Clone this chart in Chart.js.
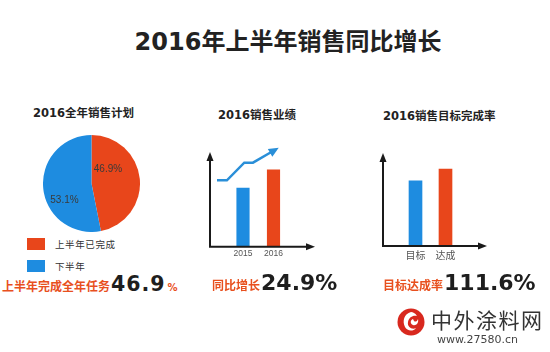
<!DOCTYPE html>
<html>
<head>
<meta charset="utf-8">
<script src="https://cdn.jsdelivr.net/npm/chart.js@4.4.1/dist/chart.umd.min.js"></script>
<style>
  html, body { margin: 0; padding: 0; }
  body { width: 550px; height: 352px; position: relative; overflow: hidden; background: #fff;
         font-family: "DejaVu Sans", "Noto Sans CJK SC", sans-serif; color: #222; }
  .abs { position: absolute; white-space: nowrap; }
  .title { left: 0; width: 576px; text-align: center; top: 28px; font-size: 24px; line-height: 29px; font-weight: bold; color: #222; }
  .ptitle { font-size: 11.5px; line-height: 14px; font-weight: bold; color: #222; }
  .box { position: absolute; }
  .legend-item { position: absolute; left: 27px; width: 120px; height: 12px; white-space: nowrap;
                 font-family: "Noto Sans CJK SC", sans-serif; font-size: 9.5px; letter-spacing: 0.6px; color: #333; }
  .legend-item i { position: absolute; left: 0; top: 0; width: 18px; height: 12px; }
  .legend-item span { position: absolute; left: 28px; top: -1px; line-height: 14px; }
  .cap { display: flex; align-items: baseline; height: 30px; }
  .cap .cn { font-family: "Noto Sans CJK SC", sans-serif; font-weight: bold; font-size: 12px; color: #e8501e; }
  .cap .num { font-family: "DejaVu Sans", sans-serif; font-weight: bold; color: #1e1e1e; }
  .cap .pct { font-family: "DejaVu Sans", sans-serif; font-weight: bold; font-size: 10px; color: #e8501e; margin-left: 2px; }
</style>
</head>
<body>
<div class="abs title">2016年上半年销售同比增长</div>

<div class="abs ptitle" style="left:33px; top:106px;">2016全年销售计划</div>
<div class="abs ptitle" style="left:218px; top:108px;">2016销售业绩</div>
<div class="abs ptitle" style="left:383px; top:109px;">2016销售目标完成率</div>

<div class="box" style="left:43px; top:135px; width:97px; height:97px;"><canvas id="pie"></canvas></div>
<div id="legend"></div>
<div class="box" style="left:195px; top:140px; width:130px; height:121px;"><canvas id="sales"></canvas></div>
<div class="box" style="left:195px; top:140px; width:130px; height:121px;"><canvas id="trend"></canvas></div>
<div class="box" style="left:370px; top:140px; width:130px; height:124px;"><canvas id="target"></canvas></div>

<div class="abs cap" style="left:2px; top:272px;">
  <span class="cn">上半年完成全年任务</span><span class="num" style="font-size:20.5px; letter-spacing:1px; margin-left:1px;">46.9</span><span class="pct">%</span>
</div>
<div class="abs cap" style="left:212px; top:270px;">
  <span class="cn">同比增长</span><span class="num" style="font-size:22px; margin-left:1px;">24.9%</span>
</div>
<div class="abs cap" style="left:383px; top:270px;">
  <span class="cn">目标达成率</span><span class="num" style="font-size:22px; margin-left:1px;">111.6%</span>
</div>

<svg class="abs" style="left:397px; top:308px;" width="28" height="28" viewBox="0 0 28 28">
  <circle cx="14" cy="14" r="13.5" fill="#d8281e"/>
  <path d="M14 4 C7 6 5 13 8 19 C10 23 16 24 19 20 C15 22 10 19 11 14 C12 9 16 7 20 8 C18 5 16 4 14 4 Z" fill="#fff"/>
  <path d="M16 11 C13 12 13 16 16 17 C19 18 22 15 21 11 C20 14 18 14 17 13 Z" fill="#fff"/>
</svg>
<div class="abs" style="left:431px; top:305px; font-family:'Noto Sans CJK SC', sans-serif; font-size:21px; line-height:28px; letter-spacing:1.5px; color:#333;">中外涂料网</div>
<div class="abs" style="left:437px; top:333px; font-size:11px; line-height:14px; color:#444;">www.27580.cn</div>

<script>
/* ─── DATA ─── */
const pieLabels = ['上半年已完成', '下半年'];
const pieValues = [46.9, 53.1];

const salesYears = ['2015', '2016'];
const salesValues = [100, 131];
// rising trend line above the sales bars
const trendX = [0, 16, 44, 58, 87];
const trendY = [66, 66, 83, 83, 93];

const targetLabels = ['目标', '达成'];
const targetValues = [100, 118];

/* ─── STYLE ─── */
const RED = '#e8461b';
const BLUE = '#1e8ce0';
const TREND = '#2a8fd8';
const AXIS = '#1a1a1a';

Chart.defaults.font.family = '"DejaVu Sans", "Noto Sans CJK SC", sans-serif';
Chart.defaults.animation = false;

// legend for the pie, as plain html
document.getElementById('legend').innerHTML = pieLabels.map((l, i) =>
  `<div class="legend-item" style="top:${238 + i * 22}px"><i style="background:${[RED, BLUE][i]}"></i><span>${l}</span></div>`
).join('');

/* ─── PLUGINS ─── */
const pieValueLabels = {
  id: 'pieValueLabels',
  afterDatasetsDraw(chart, args, opts) {
    const ctx = chart.ctx;
    const meta = chart.getDatasetMeta(0);
    ctx.save();
    ctx.font = '10px "Liberation Sans", sans-serif';
    ctx.fillStyle = '#3a3a3a';
    ctx.textAlign = 'center';
    ctx.textBaseline = 'middle';
    meta.data.forEach((arc, i) => {
      const p = opts.pos[i];
      const a = arc.startAngle + p.t * (arc.endAngle - arc.startAngle);
      const r = arc.outerRadius * p.r;
      const v = chart.data.datasets[0].data[i];
      ctx.fillText(v.toFixed(1) + '%', arc.x + Math.cos(a) * r, arc.y + Math.sin(a) * r);
    });
    ctx.restore();
  }
};

const axisArrows = {
  id: 'axisArrows',
  afterDatasetsDraw(chart, args, opts) {
    const ctx = chart.ctx;
    const b = chart.chartArea.bottom;
    const L = opts.left, T = opts.top, R = opts.right;
    ctx.save();
    ctx.strokeStyle = ctx.fillStyle = AXIS;
    ctx.lineWidth = 2;
    ctx.beginPath();
    ctx.moveTo(L, T + 6); ctx.lineTo(L, b); ctx.lineTo(R - 6, b);
    ctx.stroke();
    ctx.beginPath();
    ctx.moveTo(L, T); ctx.lineTo(L - 3.5, T + 9); ctx.lineTo(L + 3.5, T + 9); ctx.closePath(); ctx.fill();
    ctx.beginPath();
    ctx.moveTo(R, b); ctx.lineTo(R - 9, b - 3.5); ctx.lineTo(R - 9, b + 3.5); ctx.closePath(); ctx.fill();
    ctx.restore();
  }
};

const trendArrow = {
  id: 'trendArrow',
  afterDatasetsDraw(chart) {
    const pts = chart.getDatasetMeta(0).data;
    if (pts.length < 2) return;
    const a = pts[pts.length - 2], b = pts[pts.length - 1];
    const ang = Math.atan2(b.y - a.y, b.x - a.x);
    const ctx = chart.ctx;
    ctx.save();
    ctx.translate(b.x, b.y);
    ctx.rotate(ang);
    ctx.fillStyle = TREND;
    ctx.beginPath();
    ctx.moveTo(9, 0); ctx.lineTo(-1, -4.5); ctx.lineTo(-1, 4.5); ctx.closePath(); ctx.fill();
    ctx.restore();
  }
};

const noChrome = { legend: { display: false }, tooltip: { enabled: false } };

/* ─── PIE ─── */
new Chart(document.getElementById('pie'), {
  type: 'pie',
  data: { labels: pieLabels, datasets: [{ data: pieValues, backgroundColor: [RED, BLUE], borderWidth: 0 }] },
  options: {
    responsive: true, maintainAspectRatio: false,
    plugins: { ...noChrome, pieValueLabels: { pos: [{ t: 0.29, r: 0.45 }, { t: 0.36, r: 0.66 }] } }
  },
  plugins: [pieValueLabels]
});

/* ─── SALES (2015 vs 2016) ─── */
new Chart(document.getElementById('sales'), {
  type: 'bar',
  data: { labels: salesYears, datasets: [{ data: salesValues, backgroundColor: [BLUE, RED], barThickness: 12.5 }] },
  options: {
    responsive: true, maintainAspectRatio: false,
    layout: { padding: { left: 32.75, right: 36.25, top: 5, bottom: 0 } },
    plugins: { ...noChrome, axisArrows: { left: 15, top: 12, right: 120 } },
    scales: {
      x: { grid: { display: false, drawTicks: false }, border: { display: false },
           ticks: { color: '#555', padding: 2, font: { size: 8.5, family: '"Liberation Sans", sans-serif' } } },
      y: { display: false, min: 0, max: 173 }
    }
  },
  plugins: [axisArrows]
});

// trend line drawn on a transparent chart laid over the bars
new Chart(document.getElementById('trend'), {
  type: 'line',
  data: { datasets: [{ data: trendX.map((x, i) => ({ x, y: trendY[i] })),
    borderColor: TREND, borderWidth: 2.5, pointRadius: 0, clip: false, tension: 0 }] },
  options: {
    responsive: true, maintainAspectRatio: false,
    layout: { padding: { left: 22, right: 46, top: 5, bottom: 12 } },
    plugins: noChrome,
    scales: {
      x: { type: 'linear', display: false, offset: false, min: 0, max: 100 },
      y: { type: 'linear', display: false, min: 0, max: 100 }
    }
  },
  plugins: [trendArrow]
});

/* ─── TARGET COMPLETION ─── */
new Chart(document.getElementById('target'), {
  type: 'bar',
  data: { labels: targetLabels, datasets: [{ data: targetValues, backgroundColor: [BLUE, RED], barThickness: 13 }] },
  options: {
    responsive: true, maintainAspectRatio: false,
    layout: { padding: { left: 30.5, right: 39.5, top: 5, bottom: 0 } },
    plugins: { ...noChrome, axisArrows: { left: 13, top: 13, right: 117 } },
    scales: {
      x: { grid: { display: false, drawTicks: false }, border: { display: false },
           ticks: { color: '#555', padding: 3, font: { size: 10, family: '"Noto Sans CJK SC", sans-serif' } } },
      y: { display: false, min: 0, max: 155 }
    }
  },
  plugins: [axisArrows]
});
</script>
</body>
</html>
